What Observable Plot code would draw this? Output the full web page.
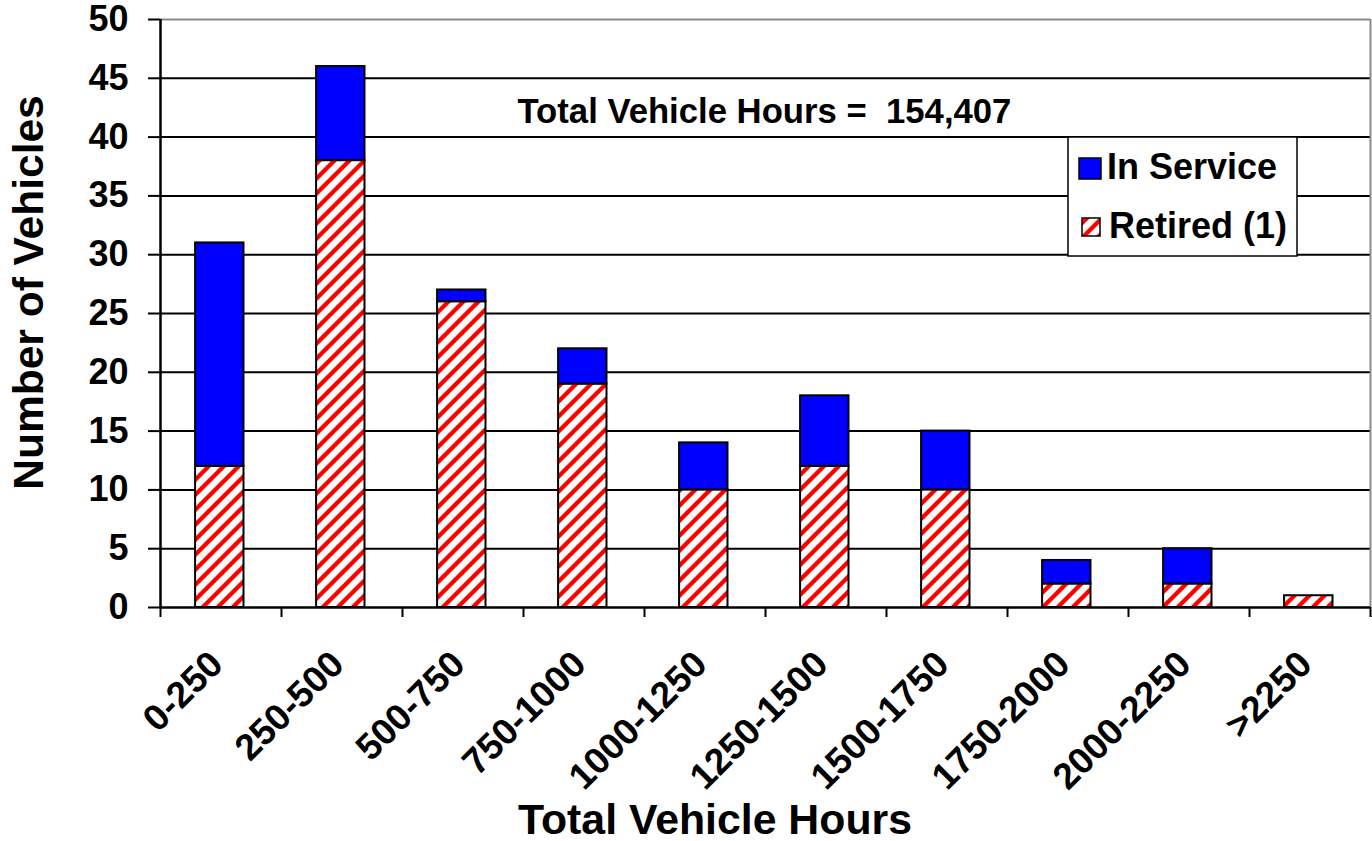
<!DOCTYPE html>
<html>
<head>
<meta charset="utf-8">
<script src="https://cdn.jsdelivr.net/npm/d3@7"></script>
<script src="https://cdn.jsdelivr.net/npm/@observablehq/plot@0.6"></script>
<style>
  html, body { margin: 0; padding: 0; background: #fff; }
  svg { display: block; }
</style>
</head>
<body>
<div id="chart"></div>
<script>
// ---- data ----
const categories = ["0-250", "250-500", "500-750", "750-1000", "1000-1250", "1250-1500", "1500-1750", "1750-2000", "2000-2250", ">2250"];
const retired   = [12, 38, 26, 19, 10, 12, 10, 2, 2, 1];
const inService = [19,  8,  1,  3,  4,  6,  5, 2, 3, 0];
const yTicks = [0, 5, 10, 15, 20, 25, 30, 35, 40, 45, 50];
const seriesNames = ["In Service", "Retired (1)"];
const chartTitle = "Total Vehicle Hours =  154,407";
const xLabel = "Total Vehicle Hours";
const yLabel = "Number of Vehicles";

const FONT = "'Liberation Sans', Arial, Helvetica, sans-serif";

// build stacked segments
const rows = [];
categories.forEach((c, i) => {
  if (retired[i] > 0) rows.push({cat: c, i, series: seriesNames[1], y1: 0, y2: retired[i]});
  if (inService[i] > 0) rows.push({cat: c, i, series: seriesNames[0], y1: retired[i], y2: retired[i] + inService[i]});
});
const boundaries = d3.range(categories.length + 1);
const yMax = yTicks[yTicks.length - 1];

const svg = Plot.plot({
  width: 1372,
  height: 841,
  marginTop: 19,
  marginRight: 2,
  marginBottom: 234,
  marginLeft: 160,
  x: {domain: [0, categories.length], axis: null},
  y: {domain: [0, yMax], axis: null},
  style: {fontFamily: FONT, color: "black", background: "white", overflow: "visible"},
  marks: [
    // gridlines
    Plot.ruleY(yTicks.filter(d => d > 0 && d < yMax), {y: d => d, stroke: "black", strokeWidth: 2}),
    Plot.ruleY([yMax], {y: d => d, stroke: "#8c8c8c", strokeWidth: 2}),
    Plot.ruleX([categories.length], {x: d => d, stroke: "#8c8c8c", strokeWidth: 2}),
    // bars
    Plot.rectY(rows, {
      x1: d => d.i + 0.29, x2: d => d.i + 0.69,
      y1: "y1", y2: "y2",
      fill: d => d.series === seriesNames[0] ? "#0000ff" : "url(#hatch)",
      stroke: "black", strokeWidth: 2
    }),
    // axes lines
    Plot.ruleX([0], {x: d => d, stroke: "black", strokeWidth: 2.5}),
    Plot.ruleY([0], {y: d => d, stroke: "black", strokeWidth: 2.5}),
    Plot.axisY({
      ticks: yTicks, tickSize: 12, tickPadding: 20, strokeWidth: 2,
      fontSize: 36, fontWeight: "bold", label: null, tickFormat: d => String(d)
    }),
    Plot.axisX({
      ticks: boundaries, tickSize: 10, strokeWidth: 2, label: null, tickFormat: () => ""
    }),
    // category labels
    Plot.text(categories, {
      x: (d, i) => i + 0.5, text: d => d,
      frameAnchor: "bottom", dx: 4, dy: 59,
      rotate: -45, textAnchor: "end", lineAnchor: "bottom",
      fontSize: 37, fontWeight: "bold"
    }),
    // title inside plot
    Plot.text([chartTitle], {
      text: d => d, frameAnchor: "top-left", dx: 357, dy: 103,
      textAnchor: "start", lineAnchor: "bottom", fontSize: 34.7, fontWeight: "bold"
    }),
    // axis labels
    Plot.text([xLabel], {
      text: d => d, frameAnchor: "bottom", dx: -50.5, dy: 226,
      textAnchor: "middle", lineAnchor: "bottom", fontSize: 42.8, fontWeight: "bold"
    }),
    Plot.text([yLabel], {
      text: d => d, frameAnchor: "left", dx: -118, dy: -21, rotate: -90,
      textAnchor: "middle", lineAnchor: "bottom", fontSize: 42.5, fontWeight: "bold"
    })
  ]
});

// hatch pattern
const s = d3.select(svg);
const defs = s.insert("defs", ":first-child");
const T = 15;
const pat = defs.append("pattern")
  .attr("id", "hatch").attr("patternUnits", "userSpaceOnUse")
  .attr("width", T).attr("height", T);
pat.append("rect").attr("width", T).attr("height", T).attr("fill", "white");
pat.append("path")
  .attr("d", `M-4,4 L4,-4 M0,${T} L${T},0 M${T - 4},${T + 4} L${T + 4},${T - 4}`)
  .attr("stroke", "#ff0000").attr("stroke-width", 4.3);

// legend
const lg = s.append("g")
  .attr("font-family", FONT).attr("font-weight", "bold").attr("font-size", 36)
  .attr("text-anchor", "start").attr("fill", "black");
lg.append("rect").attr("x", 1068).attr("y", 137).attr("width", 229).attr("height", 119)
  .attr("fill", "white").attr("stroke", "black").attr("stroke-width", 1.5);
lg.append("rect").attr("x", 1079).attr("y", 158).attr("width", 22).attr("height", 21)
  .attr("fill", "#0000ff").attr("stroke", "black").attr("stroke-width", 1.5);
lg.append("text").attr("x", 1107).attr("y", 179).text(seriesNames[0]);
lg.append("rect").attr("x", 1082).attr("y", 218).attr("width", 18).attr("height", 18)
  .attr("fill", "url(#hatch)").attr("stroke", "black").attr("stroke-width", 1.5);
lg.append("text").attr("x", 1109).attr("y", 238).text(seriesNames[1]);

document.getElementById("chart").appendChild(svg);
</script>
</body>
</html>
